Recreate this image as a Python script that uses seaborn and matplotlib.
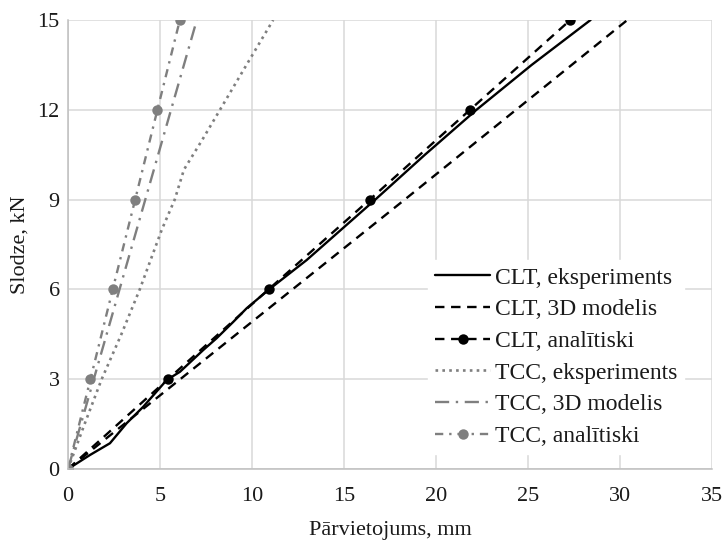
import matplotlib
matplotlib.use("Agg")
import matplotlib.pyplot as plt
import seaborn as sns
import pandas as pd

# ---- data ----
clt_exp_x = [0, 1.2, 2.28, 3.19, 4.09, 5.36, 6.09, 7.36, 8.08, 8.99, 9.71, 10.89, 12.97, 16.7, 19.4, 22.2, 25.2, 28.4]
clt_exp_y = [0, 0.47, 0.86, 1.53, 2.08, 2.97, 3.25, 3.98, 4.37, 4.92, 5.37, 5.98, 6.98, 9.0, 10.5, 12.0, 13.5, 15.0]

clt_3d_x = [0, 6.1, 12.2, 18.3, 24.35, 30.4]
clt_3d_y = [0, 3, 6, 9, 12, 15]

clt_an_x = [0, 5.43, 10.9, 16.4, 21.85, 27.3]
clt_an_y = [0, 3, 6, 9, 12, 15]

tcc_exp_x = [0, 0.9, 1.83, 2.9, 3.9, 5.1, 5.8, 6.3, 7.3, 8.26, 9.7, 11.15]
tcc_exp_y = [0, 1.5, 3, 4.5, 6, 8, 9, 10, 11, 12, 13.5, 15]

tcc_3d_x = [0, 1.4, 2.8, 4.2, 5.6, 7.0]
tcc_3d_y = [0, 3, 6, 9, 12, 15]

tcc_an_x = [0, 1.22, 2.43, 3.65, 4.86, 6.08]
tcc_an_y = [0, 3, 6, 9, 12, 15]

labels = ["CLT, eksperiments", "CLT, 3D modelis", "CLT, analītiski",
          "TCC, eksperiments", "TCC, 3D modelis", "TCC, analītiski"]
x_ticks = [0, 5, 10, 15, 20, 25, 30, 35]
y_ticks = [0, 3, 6, 9, 12, 15]
x_label = "Pārvietojums, mm"
y_label = "Slodze, kN"

sns.set_theme(style="white")
plt.rcParams["font.family"] = ["Liberation Serif", "DejaVu Serif"]

fig = plt.figure(figsize=(7.28, 5.43), dpi=100)
ax = fig.add_axes([68 / 728, 1 - 469 / 543, 644 / 728, 449 / 543])

gray = "#7f7f7f"
series = [
    (clt_exp_x, clt_exp_y, dict(color="black", lw=1.7, linestyle="-")),
    (clt_3d_x, clt_3d_y, dict(color="black", lw=1.7, linestyle=(0, (4, 2.8)))),
    (clt_an_x, clt_an_y, dict(color="black", lw=1.7, linestyle=(0, (4, 2.8)),
                              marker="o", markersize=7.5, markeredgewidth=0)),
    (tcc_exp_x, tcc_exp_y, dict(color=gray, lw=1.9, linestyle=(0, (1, 1.6)))),
    (tcc_3d_x, tcc_3d_y, dict(color=gray, lw=1.7, linestyle=(0, (6, 2.8, 1, 2.8)))),
    (tcc_an_x, tcc_an_y, dict(color=gray, lw=1.7, linestyle=(0, (3.5, 2.5, 1, 2.5)),
                              marker="o", markersize=7.5, markeredgewidth=0)),
]

for (xs, ys, st), lab in zip(series, labels):
    df = pd.DataFrame({"x": xs, "y": ys})
    sns.lineplot(data=df, x="x", y="y", ax=ax, sort=False, estimator=None,
                 label=lab, **st)

ax.set_xlim(0, 35)
ax.set_ylim(0, 15)
ax.set_xticks(x_ticks)
ax.set_yticks(y_ticks)
ax.grid(True, color="#d9d9d9", lw=1.1)
ax.set_axisbelow(True)
for s in ["top", "right"]:
    ax.spines[s].set_visible(False)
for s in ["left", "bottom"]:
    ax.spines[s].set_color("#bfbfbf")
    ax.spines[s].set_linewidth(1.1)
ax.tick_params(axis="both", length=0, labelsize=16, colors="#1a1a1a")
ax.tick_params(axis="x", pad=13)
ax.tick_params(axis="y", pad=6)
ax.set_xlabel(x_label, fontsize=16, color="#1a1a1a", labelpad=11)
ax.set_ylabel(y_label, fontsize=16, color="#1a1a1a", labelpad=6)

leg = ax.legend(loc="center left", bbox_to_anchor=(0.559, 0.2494), frameon=True,
                fontsize=17, handlelength=2.33, handletextpad=0.2,
                labelspacing=0.43, borderpad=0.3, borderaxespad=0,
                fancybox=False)
leg.get_frame().set_facecolor("white")
leg.get_frame().set_edgecolor("white")
leg.get_frame().set_alpha(1)
for t in leg.get_texts():
    t.set_color("#1a1a1a")

fig.savefig("out.png", dpi=100)
